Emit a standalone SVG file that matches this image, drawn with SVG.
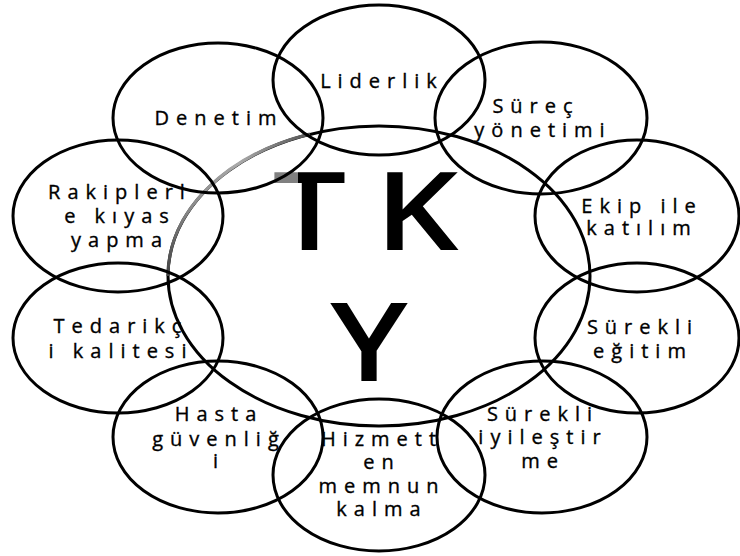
<svg xmlns="http://www.w3.org/2000/svg" width="740" height="556" viewBox="0 0 740 556">
<defs>
<linearGradient id="arcGrad" gradientUnits="userSpaceOnUse" x1="168" y1="276" x2="310" y2="134">
<stop offset="0" stop-color="#444"/>
<stop offset="0.3" stop-color="#888"/>
<stop offset="0.65" stop-color="#aaa"/>
<stop offset="1" stop-color="#555"/>
</linearGradient>
<linearGradient id="tkGrad" gradientUnits="userSpaceOnUse" x1="0" y1="0" x2="740" y2="0">
<stop offset="0" stop-color="#808080"/>
<stop offset="0.3356" stop-color="#808080"/>
<stop offset="0.3356" stop-color="#000"/>
<stop offset="1" stop-color="#000"/>
</linearGradient>
</defs>
<style>
.ell{fill:none;stroke:#000;stroke-width:3}
.lbl{font-family:"Open Sans","Liberation Sans",sans-serif;font-size:20px;letter-spacing:7px;fill:#000;stroke:#000;stroke-width:0.35px;text-anchor:middle}
.big{font-family:"Open Sans","Liberation Sans",sans-serif;font-size:109px;font-weight:600}
</style>
<rect width="740" height="556" fill="#fff"/>
<g id="center">
<ellipse class="ell" cx="379" cy="276" rx="211" ry="150"/>
<path d="M168,276 A211,150 0 0,1 310,134" fill="none" stroke="url(#arcGrad)" stroke-width="3.2"/>
<text class="big" transform="scale(1.2,1)" x="227" y="250" letter-spacing="24" fill="url(#tkGrad)">TK</text>
<text class="big" transform="scale(1.2,1)" x="307.5" y="381" text-anchor="middle" fill="#000">Y</text>
</g>
<g id="liderlik">
<ellipse class="ell" cx="379" cy="80" rx="106" ry="75"/>
<text class="lbl" x="382" y="88">Liderlik</text>
</g>
<g id="denetim">
<ellipse class="ell" cx="218" cy="118" rx="105" ry="75"/>
<text class="lbl" x="219" y="125">Denetim</text>
</g>
<g id="surec">
<ellipse class="ell" cx="541" cy="118" rx="106" ry="76"/>
<text class="lbl" x="536" y="113">Süreç</text>
<text class="lbl" x="543" y="137">yönetimi</text>
</g>
<g id="rakipler">
<ellipse class="ell" cx="118" cy="216" rx="105" ry="76"/>
<text class="lbl" x="120" y="199">Rakiplerl</text>
<text class="lbl" x="120" y="223">e kıyas</text>
<text class="lbl" x="120" y="247">yapma</text>
</g>
<g id="ekip">
<ellipse class="ell" cx="637" cy="216" rx="102" ry="76"/>
<text class="lbl" x="642" y="213">Ekip ile</text>
<text class="lbl" x="642" y="235">katılım</text>
</g>
<g id="tedarikci">
<ellipse class="ell" cx="118" cy="338" rx="105" ry="75"/>
<text class="lbl" x="121" y="333">Tedarikç</text>
<text class="lbl" x="121" y="358">i kalitesi</text>
</g>
<g id="egitim">
<ellipse class="ell" cx="637" cy="338" rx="102" ry="75"/>
<text class="lbl" x="643" y="334">Sürekli</text>
<text class="lbl" x="643" y="358">eğitim</text>
</g>
<g id="hasta">
<ellipse class="ell" cx="218" cy="437" rx="105" ry="76"/>
<text class="lbl" x="219" y="421">Hasta</text>
<text class="lbl" x="219" y="446">güvenliğ</text>
<text class="lbl" x="219" y="468">i</text>
</g>
<g id="hizmet">
<ellipse class="ell" cx="379" cy="475" rx="106" ry="76"/>
<text class="lbl" x="382" y="446">Hizmett</text>
<text class="lbl" x="382" y="469">en</text>
<text class="lbl" x="382" y="493">memnun</text>
<text class="lbl" x="382" y="516">kalma</text>
</g>
<g id="iyilestirme">
<ellipse class="ell" cx="542" cy="437" rx="105" ry="76"/>
<text class="lbl" x="543" y="421">Sürekli</text>
<text class="lbl" x="543" y="444">iyileştir</text>
<text class="lbl" x="543" y="468">me</text>
</g>
</svg>
